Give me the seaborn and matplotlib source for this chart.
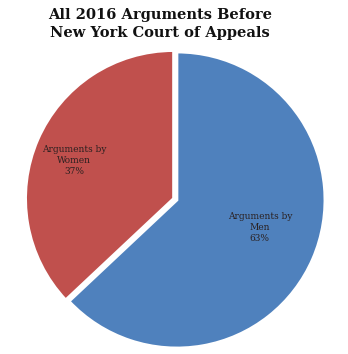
import matplotlib
matplotlib.use("Agg")
import matplotlib.pyplot as plt
import seaborn as sns
import numpy as np

categories = ["Arguments by\nMen", "Arguments by\nWomen"]
values = [63, 37]
colors = ["#4F81BD", "#C0504D"]
title = "All 2016 Arguments Before\nNew York Court of Appeals"

sns.set_theme(style="white")
plt.rcParams['font.family'] = ['DejaVu Serif', 'Liberation Serif']

fig = plt.figure(figsize=(3.48, 3.54), dpi=100)
ax = fig.add_axes([0.083, 0.017, 0.851, 0.836])
wedges, _ = ax.pie(values, colors=colors, startangle=90, counterclock=False,
                   explode=[0, 0.025],
                   wedgeprops=dict(edgecolor="white", linewidth=2))
dists = [0.59, 0.72]
ang_off = [5.0, 2.5]
for w, cat, v, d, off in zip(wedges, categories, values, dists, ang_off):
    ang = np.deg2rad((w.theta1 + w.theta2) / 2 + off)
    cx, cy = w.center
    ax.text(cx + d * np.cos(ang), cy + d * np.sin(ang), f"{cat}\n{v}%",
            ha="center", va="center", fontsize=6.5, color="#2a2020", linespacing=1.3)
ax.set_aspect("equal")
ax.set_xlim(-1.0, 1.0)
ax.set_ylim(-1.0, 1.0)
fig.text(0.46, 0.932, title, ha="center", va="center", fontsize=10.5,
         fontweight="bold", color="#111111", linespacing=1.35)
fig.savefig("out.png", dpi=100, facecolor="white")
